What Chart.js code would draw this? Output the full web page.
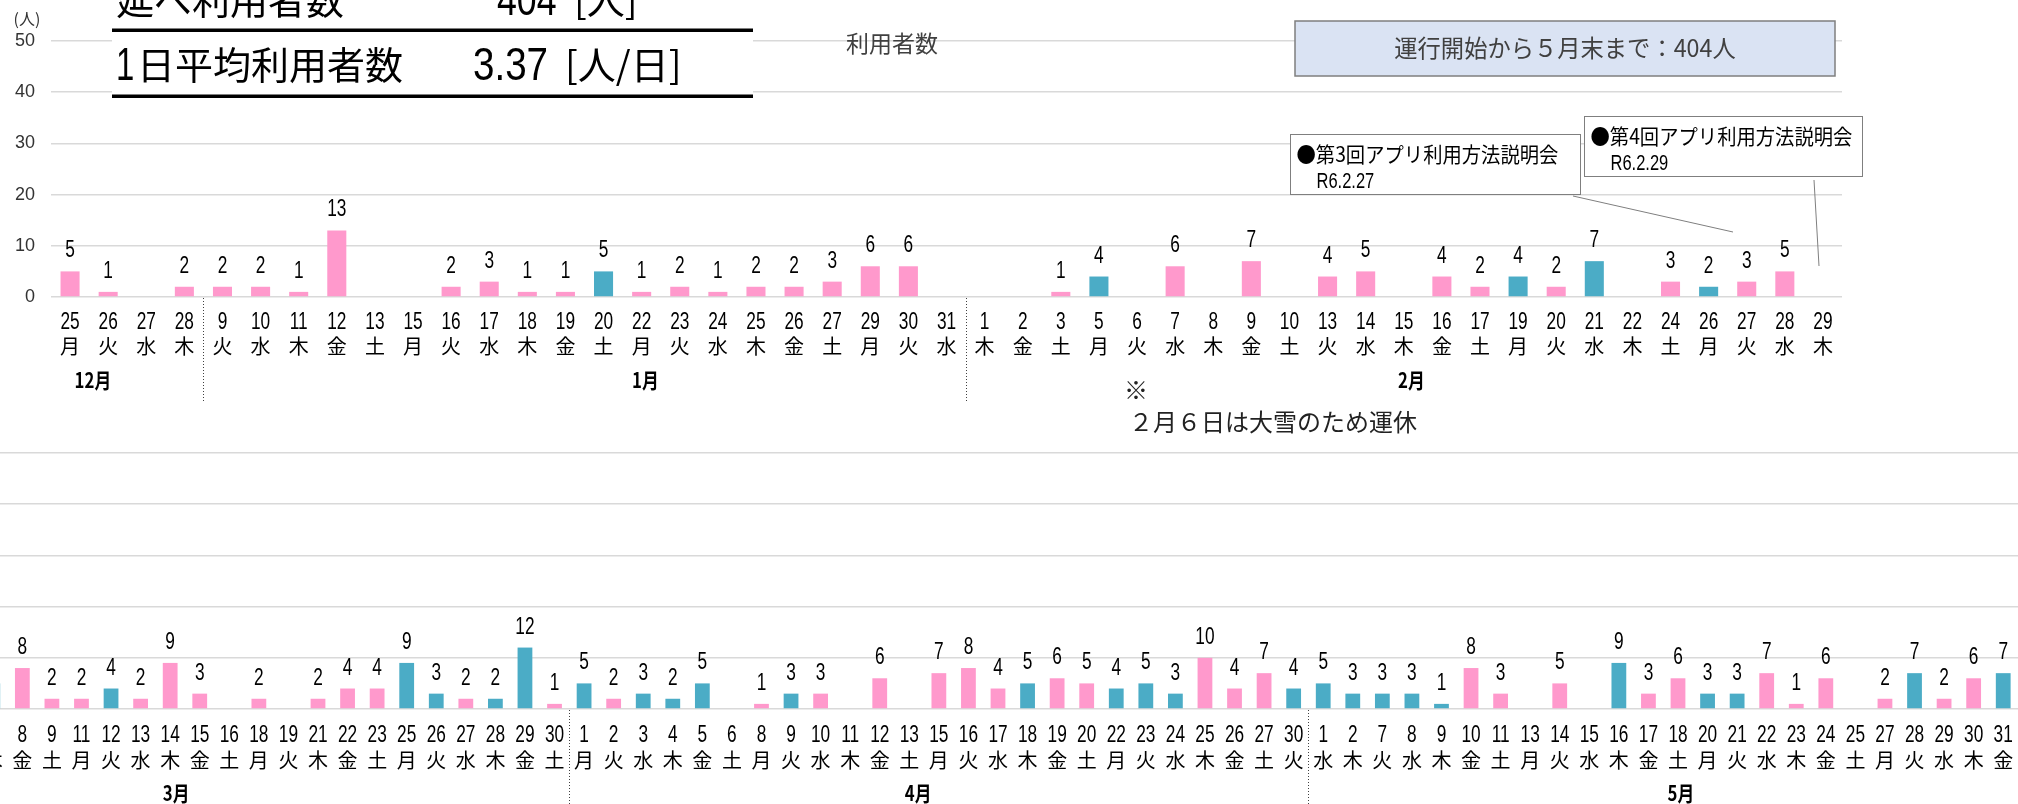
<!DOCTYPE html>
<html lang="ja">
<head>
<meta charset="utf-8">
<title>利用者数</title>
<script src="https://cdn.jsdelivr.net/npm/chart.js@4.4.1/dist/chart.umd.min.js"></script>
<style>
  html, body { margin: 0; padding: 0; background: #fff; }
  body { width: 2018px; height: 804px; position: relative; overflow: hidden; }
  #topChart { position: absolute; left: 0; top: 0; }
  #bottomChart { position: absolute; left: -22px; top: 420px; }
</style>
</head>
<body>
<canvas id="bottomChart" width="2040" height="384"></canvas>
<canvas id="topChart" width="1880" height="440"></canvas>
<script>
// 12月〜2月
const topDays = [25, 26, 27, 28,
  9, 10, 11, 12, 13, 15, 16, 17, 18, 19, 20, 22, 23, 24, 25, 26, 27, 29, 30, 31,
  1, 2, 3, 5, 6, 7, 8, 9, 10, 13, 14, 15, 16, 17, 19, 20, 21, 22, 24, 26, 27, 28, 29];
const topWeekdays = ['月', '火', '水', '木',
  '火', '水', '木', '金', '土', '月', '火', '水', '木', '金', '土', '月', '火', '水', '木', '金', '土', '月', '火', '水',
  '木', '金', '土', '月', '火', '水', '木', '金', '土', '火', '水', '木', '金', '土', '月', '火', '水', '木', '土', '月', '火', '水', '木'];
const topValues = [5, 1, 0, 2,
  2, 2, 1, 13, 0, 0, 2, 3, 1, 1, 5, 1, 2, 1, 2, 2, 3, 6, 6, 0,
  0, 0, 1, 4, 0, 6, 0, 7, 0, 4, 5, 0, 4, 2, 4, 2, 7, 0, 3, 2, 3, 5, 0];
// 1 = 青色の棒
const topTeal = [0, 0, 0, 0,
  0, 0, 0, 0, 0, 0, 0, 0, 0, 0, 1, 0, 0, 0, 0, 0, 0, 0, 0, 0,
  0, 0, 0, 1, 0, 0, 0, 0, 0, 0, 0, 0, 0, 0, 1, 0, 1, 0, 0, 1, 0, 0, 0];
const topMonths = ['12月', '1月', '2月'];
const topMonthCounts = [4, 20, 23];

// 3月〜5月
const bottomDays = [7, 8, 9, 11, 12, 13, 14, 15, 16, 18, 19, 21, 22, 23, 25, 26, 27, 28, 29, 30,
  1, 2, 3, 4, 5, 6, 8, 9, 10, 11, 12, 13, 15, 16, 17, 18, 19, 20, 22, 23, 24, 25, 26, 27, 30,
  1, 2, 7, 8, 9, 10, 11, 13, 14, 15, 16, 17, 18, 20, 21, 22, 23, 24, 25, 27, 28, 29, 30, 31];
const bottomWeekdays = ['木', '金', '土', '月', '火', '水', '木', '金', '土', '月', '火', '木', '金', '土', '月', '火', '水', '木', '金', '土',
  '月', '火', '水', '木', '金', '土', '月', '火', '水', '木', '金', '土', '月', '火', '水', '木', '金', '土', '月', '火', '水', '木', '金', '土', '火',
  '水', '木', '火', '水', '木', '金', '土', '月', '火', '水', '木', '金', '土', '月', '火', '水', '木', '金', '土', '月', '火', '水', '木', '金'];
const bottomValues = [5, 8, 2, 2, 4, 2, 9, 3, 0, 2, 0, 2, 4, 4, 9, 3, 2, 2, 12, 1,
  5, 2, 3, 2, 5, 0, 1, 3, 3, 0, 6, 0, 7, 8, 4, 5, 6, 5, 4, 5, 3, 10, 4, 7, 4,
  5, 3, 3, 3, 1, 8, 3, 0, 5, 0, 9, 3, 6, 3, 3, 7, 1, 6, 0, 2, 7, 2, 6, 7];
const bottomTeal = [1, 0, 0, 0, 1, 0, 0, 0, 0, 0, 0, 0, 0, 0, 1, 1, 0, 1, 1, 0,
  1, 0, 1, 1, 1, 0, 0, 1, 0, 0, 0, 0, 0, 0, 0, 1, 0, 0, 1, 1, 1, 0, 0, 0, 1,
  1, 1, 1, 1, 1, 0, 0, 0, 0, 0, 1, 0, 0, 1, 1, 0, 0, 0, 0, 0, 1, 0, 0, 1];
const bottomMonths = ['3月', '4月', '5月'];
const bottomMonthCounts = [20, 25, 24];

const yTicks = [0, 10, 20, 30, 40, 50];

const PINK = '#FF99CC';
const TEAL = '#4BACC6';
const LATIN = "'Liberation Sans', 'Noto Sans CJK JP', sans-serif";
const JP = "'Noto Sans CJK JP', sans-serif";

// 横に縮めた文字（元の図の細い数字に合わせる）
function narrowText(ctx, text, x, y, sx) {
    ctx.save();
    ctx.translate(x, y);
    ctx.scale(sx, 1);
    ctx.fillText(text, 0, 0);
    ctx.restore();
}

// 日付・曜日・月・区切り線・データラベル
const axisLabels = {
    id: 'axisLabels',
    afterDraw(chart, args, o) {
        const ctx = chart.ctx;
        const x = chart.scales.x;
        const area = chart.chartArea;
        const x0 = x.getPixelForValue(0);
        const step = x.getPixelForValue(1) - x0;
        ctx.save();
        ctx.fillStyle = '#000';
        ctx.textAlign = 'center';
        ctx.textBaseline = 'middle';
        o.days.forEach(function(d, i) {
            const px = x.getPixelForValue(i);
            ctx.font = '24px ' + LATIN;
            narrowText(ctx, String(d), px, o.dayY, 0.72);
            ctx.font = '20px ' + JP;
            ctx.fillText(o.weekdays[i], px, o.wdY);
        });

        // 月の区切り（点線）
        ctx.strokeStyle = '#404040';
        ctx.lineWidth = 1;
        ctx.setLineDash([1, 2]);
        let start = 0;
        o.monthCounts.forEach(function(n, k) {
            if (k > 0) {
                const sx = Math.round(x0 + (start - 0.5) * step) + 0.5;
                ctx.beginPath();
                ctx.moveTo(sx, area.bottom + 1);
                ctx.lineTo(sx, o.sepBottom);
                ctx.stroke();
            }
            start += n;
        });
        ctx.setLineDash([]);

        ctx.font = 'bold 21px ' + JP;
        o.months.forEach(function(m, k) {
            narrowText(ctx, m, x0 + o.monthAt[k] * step, o.monthY, 0.8);
        });

        // 棒の上の数値
        ctx.font = '24px ' + LATIN;
        ctx.textBaseline = 'alphabetic';
        const data = chart.data.datasets[0].data;
        chart.getDatasetMeta(0).data.forEach(function(bar, i) {
            if (data[i] > 0) narrowText(ctx, String(data[i]), bar.x, bar.y - 14, 0.72);
        });
        ctx.restore();
    }
};

// 上段の見出し・注記
const topNotes = {
    id: 'topNotes',
    afterDraw(chart) {
        const ctx = chart.ctx;
        ctx.save();
        ctx.textBaseline = 'middle';

        // 左上の集計表
        ctx.fillStyle = '#fff';
        ctx.fillRect(112, 30, 641, 66);
        ctx.fillStyle = '#000';
        ctx.fillRect(112, 28.5, 641, 3.5);
        ctx.fillRect(112, 94.5, 641, 3.5);
        ctx.textAlign = 'left';
        ctx.font = '38px ' + JP;
        ctx.fillText('延べ利用者数', 116, 0);
        ctx.fillText('日平均利用者数', 137, 65);
        ctx.fillText('[人]', 574, 0);
        ctx.fillText('[人/日]', 565, 65);
        ctx.font = '47px ' + LATIN;
        narrowText(ctx, '404', 497, 2, 0.76);
        narrowText(ctx, '1', 116, 67, 0.7);
        narrowText(ctx, '3.37', 473, 67, 0.82);

        // 単位
        ctx.textAlign = 'center';
        ctx.fillStyle = '#333';
        ctx.font = '16px ' + JP;
        ctx.fillText('(人)', 27, 19);

        // タイトル
        ctx.fillStyle = '#404040';
        ctx.font = '23px ' + JP;
        ctx.fillText('利用者数', 892, 43);

        // 右上の合計
        ctx.fillStyle = '#DAE3F3';
        ctx.fillRect(1295, 21, 540, 55);
        ctx.strokeStyle = '#7f7f7f';
        ctx.lineWidth = 1.5;
        ctx.strokeRect(1295, 21, 540, 55);
        ctx.fillStyle = '#404040';
        ctx.font = '24px ' + JP;
        narrowText(ctx, '運行開始から５月末まで：404人', 1565, 48, 0.97);

        // 引出線
        ctx.strokeStyle = '#7f7f7f';
        ctx.lineWidth = 1;
        ctx.beginPath();
        ctx.moveTo(1573, 196);
        ctx.lineTo(1733, 232);
        ctx.moveTo(1814, 180);
        ctx.lineTo(1819, 266);
        ctx.stroke();

        // 説明会の吹き出し
        [[1290.5, 134.5, 290, 60, '●第3回アプリ利用方法説明会', 'R6.2.27'],
         [1584.5, 116.5, 278, 60, '●第4回アプリ利用方法説明会', 'R6.2.29']].forEach(function(b) {
            ctx.fillStyle = '#fff';
            ctx.fillRect(b[0], b[1], b[2], b[3]);
            ctx.strokeRect(b[0], b[1], b[2], b[3]);
            ctx.fillStyle = '#000';
            ctx.textAlign = 'left';
            ctx.font = '21px ' + JP;
            narrowText(ctx, b[4], b[0] + 6, b[1] + 20, 0.92);
            ctx.font = '22px ' + LATIN;
            narrowText(ctx, b[5], b[0] + 26, b[1] + 47, 0.75);
        });

        // 運休の注記
        ctx.fillStyle = '#222';
        ctx.font = '24px ' + JP;
        ctx.textAlign = 'center';
        ctx.fillText('※', 1136, 390);
        ctx.textAlign = 'left';
        ctx.fillText('２月６日は大雪のため運休', 1129, 422);
        ctx.restore();
    }
};

function makeChart(id, days, weekdays, values, teal, axis) {
    const ctx = document.getElementById(id);
    return new Chart(ctx, {
        type: 'bar',
        data: {
            labels: days.map(function(d, i) { return d + weekdays[i]; }),
            datasets: [{
                label: '利用者数',
                data: values,
                backgroundColor: teal.map(function(t) { return t ? TEAL : PINK; }),
                borderWidth: 0,
                categoryPercentage: 0.5,
                barPercentage: 1
            }]
        },
        options: {
            responsive: false,
            animation: false,
            devicePixelRatio: 1,
            layout: { padding: axis.padding },
            plugins: {
                legend: { display: false },
                tooltip: { enabled: false },
                axisLabels: axis
            },
            scales: {
                x: {
                    grid: { display: false },
                    border: { display: false },
                    ticks: { display: false },
                    afterFit: function(s) { s.height = axis.xHeight; }
                },
                y: {
                    min: 0,
                    max: 50,
                    afterBuildTicks: function(s) { s.ticks = yTicks.map(function(v) { return { value: v }; }); },
                    grid: { color: '#d9d9d9', lineWidth: 1.5, drawTicks: false },
                    border: { display: false },
                    ticks: {
                        display: axis.showY,
                        padding: 16,
                        color: '#333',
                        font: { family: LATIN, size: 18 }
                    },
                    afterFit: function(s) { s.width = axis.yWidth; }
                }
            }
        },
        plugins: id === 'topChart' ? [axisLabels, topNotes] : [axisLabels]
    });
}

document.addEventListener('DOMContentLoaded', function() {
    makeChart('topChart', topDays, topWeekdays, topValues, topTeal, {
        days: topDays, weekdays: topWeekdays,
        months: topMonths, monthCounts: topMonthCounts, monthAt: [0.6, 15.1, 35.2],
        dayY: 322, wdY: 346, monthY: 380, sepBottom: 402,
        padding: { top: 41, right: 38, left: 0, bottom: 0 },
        xHeight: 143, yWidth: 51, showY: true
    });
    makeChart('bottomChart', bottomDays, bottomWeekdays, bottomValues, bottomTeal, {
        days: bottomDays, weekdays: bottomWeekdays,
        months: bottomMonths, monthCounts: bottomMonthCounts, monthAt: [6.2, 31.3, 57.1],
        dayY: 315, wdY: 340, monthY: 373, sepBottom: 384,
        padding: { top: 33, right: 0, left: 0, bottom: 0 },
        xHeight: 95, yWidth: 0, showY: false
    });
});
</script>
</body>
</html>
